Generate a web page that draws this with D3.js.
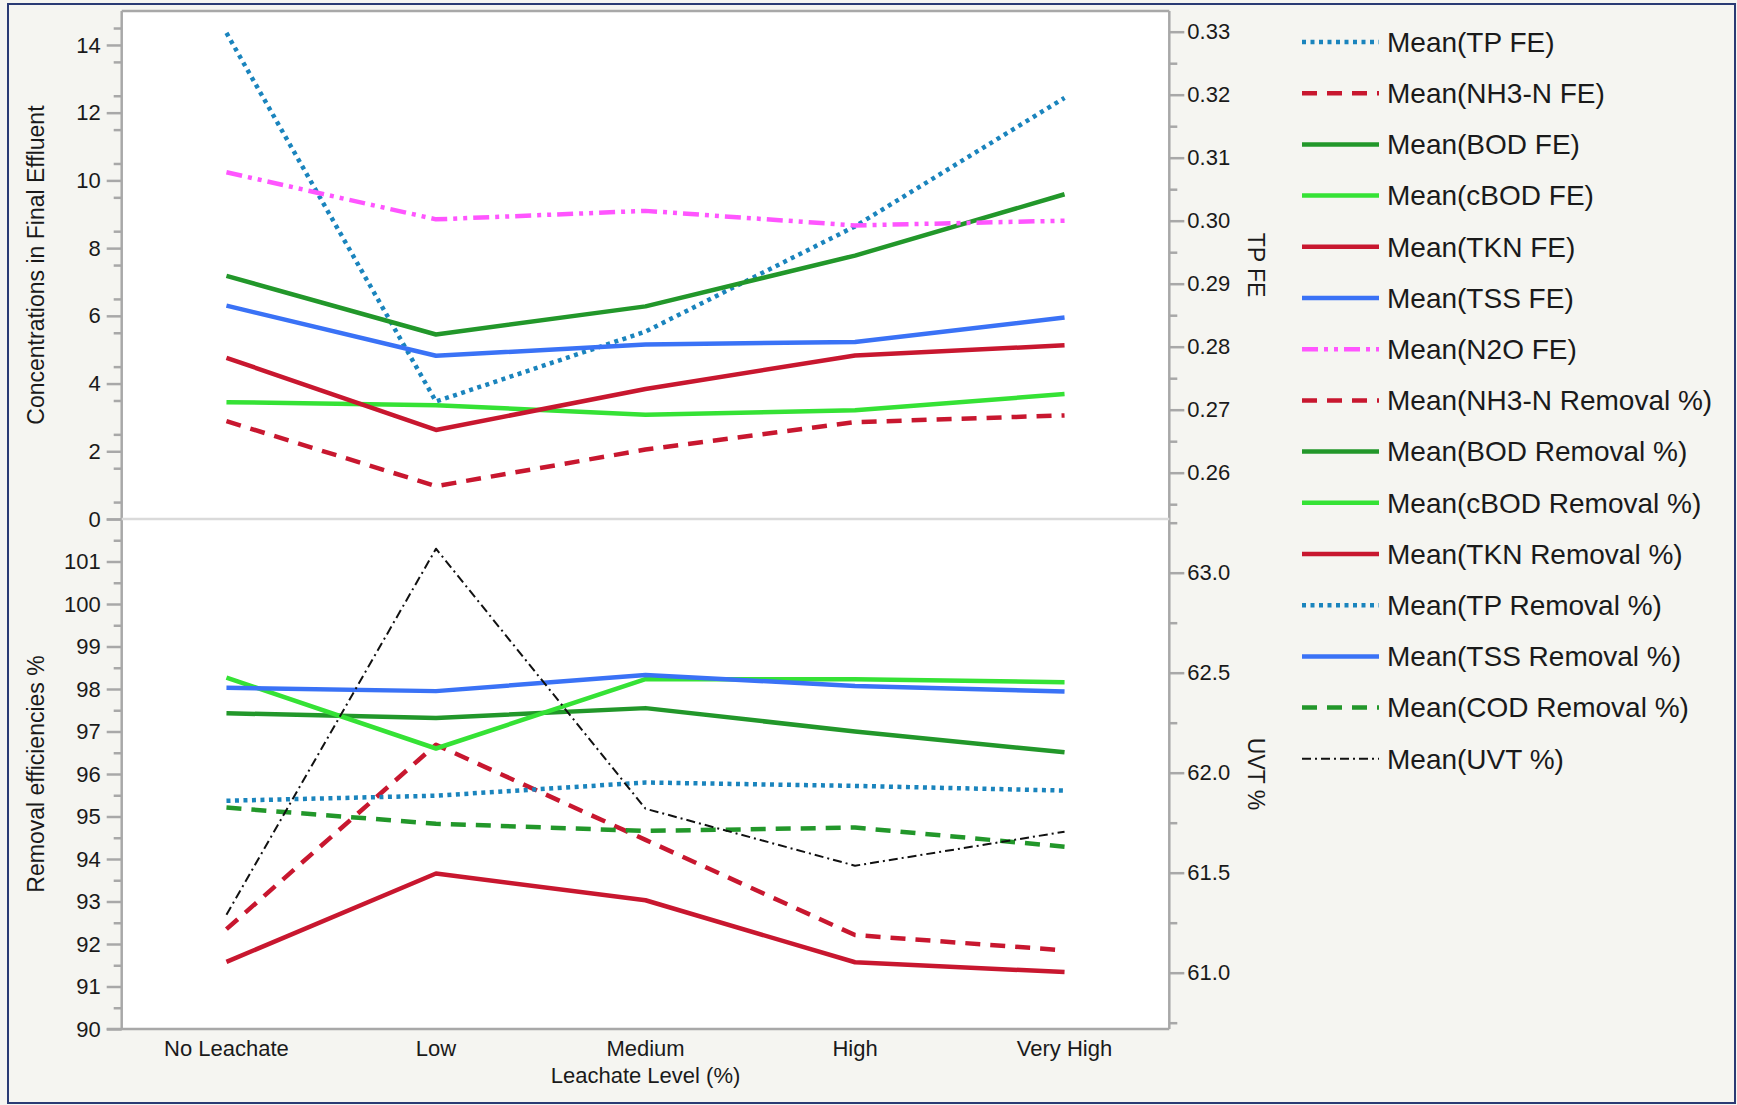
<!DOCTYPE html>
<html>
<head>
<meta charset="utf-8">
<script src="https://cdn.jsdelivr.net/npm/d3@7"></script>
<style>
  html, body { margin: 0; padding: 0; background: #f5f5f1; }
  text { font-family: "Liberation Sans", Arial, Helvetica, sans-serif; fill: #1a1a1a; }
</style>
</head>
<body>
<div id="viz"></div>
<script>
// categories
const levels = ["No Leachate", "Low", "Medium", "High", "Very High"];

// upper panel: final effluent concentrations (TP FE on right axis)
const tpFE    = [0.3298, 0.2713, 0.2824, 0.2991, 0.3195];
const nh3nFE  = [2.89, 0.97, 2.05, 2.86, 3.06];
const bodFE   = [7.18, 5.45, 6.28, 7.78, 9.59];
const cbodFE  = [3.45, 3.36, 3.08, 3.21, 3.69];
const tknFE   = [4.76, 2.63, 3.84, 4.83, 5.13];
const tssFE   = [6.30, 4.82, 5.15, 5.23, 5.95];
const n2oFE   = [10.24, 8.85, 9.10, 8.67, 8.81];

// lower panel: removal efficiencies (UVT on right axis)
const nh3nRem = [92.35, 96.69, 94.45, 92.21, 91.85];
const bodRem  = [97.43, 97.32, 97.55, 97.00, 96.51];
const cbodRem = [98.27, 96.60, 98.23, 98.23, 98.16];
const tknRem  = [91.58, 93.66, 93.03, 91.57, 91.34];
const tpRem   = [95.37, 95.49, 95.80, 95.72, 95.61];
const tssRem  = [98.03, 97.95, 98.33, 98.07, 97.94];
const codRem  = [95.21, 94.83, 94.66, 94.74, 94.29];
const uvt     = [61.29, 63.12, 61.82, 61.535, 61.705];

// tick labels
const topTicks = [0, 2, 4, 6, 8, 10, 12, 14];
const topRTicks = [0.26, 0.27, 0.28, 0.29, 0.30, 0.31, 0.32, 0.33];
const botTicks = [90, 91, 92, 93, 94, 95, 96, 97, 98, 99, 100, 101];
const botRTicks = [61.0, 61.5, 62.0, 62.5, 63.0];

const width = 1737;
const height = 1105;

const svg = d3.select("#viz")
    .append("svg")
    .attr("width", width)
    .attr("height", height);

// outer frame
svg.append("rect")
    .attr("x", 8).attr("y", 4)
    .attr("width", 1727).attr("height", 1099)
    .attr("fill", "#f5f5f1")
    .attr("stroke", "#2a3b74")
    .attr("stroke-width", 2);

const plotL = 121.7, plotR = 1169.3;
const topY0 = 11.1, midY = 519, botY1 = 1029;

svg.append("rect")
    .attr("x", plotL).attr("y", topY0)
    .attr("width", plotR - plotL).attr("height", botY1 - topY0)
    .attr("fill", "#ffffff");

const x = d3.scalePoint().domain(levels).range([plotL, plotR]).padding(0.5);
const yTop = d3.scaleLinear().domain([0, 15]).range([midY, topY0]);
const yTopR = d3.scaleLinear().domain([0.26, 0.33]).range([472.7, 31.7]);
const yBot = d3.scaleLinear().domain([90, 102]).range([botY1, midY]);
const yBotR = d3.scaleLinear().domain([61, 63]).range([972.7, 572.7]);

const axisColor = "#a8a8a8";

// axis helper: major + minor ticks
function drawAxis(axisFn, scale, x0, major, minor, fmt, pad) {
    const gMinor = svg.append("g")
        .attr("transform", `translate(${x0},0)`)
        .call(axisFn(scale).tickValues(minor).tickSize(8).tickFormat(""));
    const gMajor = svg.append("g")
        .attr("transform", `translate(${x0},0)`)
        .call(axisFn(scale).tickValues(major).tickSize(15).tickPadding(pad).tickFormat(fmt));
    [gMinor, gMajor].forEach(g => {
        g.select(".domain").remove();
        g.selectAll("line").attr("stroke", axisColor).attr("stroke-width", 2.5);
        g.selectAll("text").style("font-size", "22px").attr("fill", "#1a1a1a");
    });
}

drawAxis(d3.axisLeft, yTop, plotL, topTicks, d3.range(0.5, 15, 1), d3.format("d"), 6);
drawAxis(d3.axisLeft, yBot, plotL, botTicks.concat([102]), d3.range(90.5, 102, 1),
    d => d === 102 ? "" : d3.format("d")(d), 6);
drawAxis(d3.axisRight, yTopR, plotR, topRTicks, d3.range(0.255, 0.3334, 0.01).filter(v => v < 0.3333), d3.format(".2f"), 3);
drawAxis(d3.axisRight, yBotR, plotR, botRTicks, [60.75, 61.25, 61.75, 62.25, 62.75, 63.25], d3.format(".1f"), 3);

// frame lines
const frame = svg.append("g").attr("stroke", axisColor).attr("stroke-width", 2.5).attr("fill", "none");
frame.append("line").attr("x1", plotL).attr("x2", plotL).attr("y1", topY0).attr("y2", botY1);
frame.append("line").attr("x1", plotR).attr("x2", plotR).attr("y1", topY0).attr("y2", botY1);
frame.append("line").attr("x1", plotL).attr("x2", plotR).attr("y1", topY0).attr("y2", topY0);
frame.append("line").attr("x1", plotL - 15).attr("x2", plotR).attr("y1", botY1).attr("y2", botY1);
svg.append("line")
    .attr("x1", plotL).attr("x2", plotR).attr("y1", midY).attr("y2", midY)
    .attr("stroke", "#dadada").attr("stroke-width", 2.5);

// x axis labels
svg.append("g").selectAll("text").data(levels).enter().append("text")
    .attr("x", d => x(d))
    .attr("y", 1056)
    .attr("text-anchor", "middle")
    .style("font-size", "22px")
    .text(d => d);

svg.append("text")
    .attr("x", (plotL + plotR) / 2).attr("y", 1083)
    .attr("text-anchor", "middle")
    .style("font-size", "22px")
    .text("Leachate Level (%)");

// axis titles
const titles = [
    {t: "Concentrations in Final Effluent", x: 44, y: (topY0 + midY) / 2, r: -90},
    {t: "Removal efficiencies %", x: 44, y: (midY + botY1) / 2, r: -90},
    {t: "TP FE", x: 1248, y: (topY0 + midY) / 2, r: 90},
    {t: "UVT %", x: 1248, y: (midY + botY1) / 2, r: 90}
];
svg.append("g").selectAll("text").data(titles).enter().append("text")
    .attr("transform", d => `translate(${d.x},${d.y}) rotate(${d.r})`)
    .attr("text-anchor", "middle")
    .style("font-size", "23px")
    .text(d => d.t);

// line styles
const RED = "#c8172f", DGREEN = "#22972a", LGREEN = "#35e235", BLUE = "#3a72f6",
      TEAL = "#1a84bd", MAGENTA = "#ff55ff";
const DOT = "4,4.5", DASH = "15,10", DASHDOT = "16,6,4,6,4,6", UVTDASH = "9,4,2,4";

const series = [
    {name: "Mean(TP FE)", values: tpFE, y: yTopR, color: TEAL, dash: DOT, w: 4.5},
    {name: "Mean(NH3-N FE)", values: nh3nFE, y: yTop, color: RED, dash: DASH, w: 4.5},
    {name: "Mean(BOD FE)", values: bodFE, y: yTop, color: DGREEN, dash: null, w: 4.5},
    {name: "Mean(cBOD FE)", values: cbodFE, y: yTop, color: LGREEN, dash: null, w: 4.5},
    {name: "Mean(TKN FE)", values: tknFE, y: yTop, color: RED, dash: null, w: 4.5},
    {name: "Mean(TSS FE)", values: tssFE, y: yTop, color: BLUE, dash: null, w: 4.5},
    {name: "Mean(N2O FE)", values: n2oFE, y: yTop, color: MAGENTA, dash: DASHDOT, w: 4.5},
    {name: "Mean(NH3-N Removal %)", values: nh3nRem, y: yBot, color: RED, dash: DASH, w: 4.5},
    {name: "Mean(BOD Removal %)", values: bodRem, y: yBot, color: DGREEN, dash: null, w: 4.5},
    {name: "Mean(cBOD Removal %)", values: cbodRem, y: yBot, color: LGREEN, dash: null, w: 4.5},
    {name: "Mean(TKN Removal %)", values: tknRem, y: yBot, color: RED, dash: null, w: 4.5},
    {name: "Mean(TP Removal %)", values: tpRem, y: yBot, color: TEAL, dash: DOT, w: 4.5},
    {name: "Mean(TSS Removal %)", values: tssRem, y: yBot, color: BLUE, dash: null, w: 4.5},
    {name: "Mean(COD Removal %)", values: codRem, y: yBot, color: DGREEN, dash: DASH, w: 4.5},
    {name: "Mean(UVT %)", values: uvt, y: yBotR, color: "#111111", dash: UVTDASH, w: 2}
];

const lines = svg.append("g");
series.forEach(s => {
    const line = d3.line()
        .x((d, i) => x(levels[i]))
        .y(d => s.y(d));
    lines.append("path")
        .datum(s.values)
        .attr("d", line)
        .attr("fill", "none")
        .attr("stroke", s.color)
        .attr("stroke-width", s.w)
        .attr("stroke-dasharray", s.dash)
        .attr("stroke-linejoin", "round");
});

// legend
const legend = svg.append("g");
const rowY = i => 42 + i * 51.2;
legend.selectAll("line").data(series).enter().append("line")
    .attr("x1", 1302).attr("x2", 1379)
    .attr("y1", (d, i) => rowY(i)).attr("y2", (d, i) => rowY(i))
    .attr("stroke", d => d.color)
    .attr("stroke-width", d => d.w)
    .attr("stroke-dasharray", d => d.dash);
legend.selectAll("text").data(series).enter().append("text")
    .attr("x", 1387)
    .attr("y", (d, i) => rowY(i))
    .attr("dy", "0.35em")
    .style("font-size", "28px")
    .text(d => d.name);
</script>
</body>
</html>
